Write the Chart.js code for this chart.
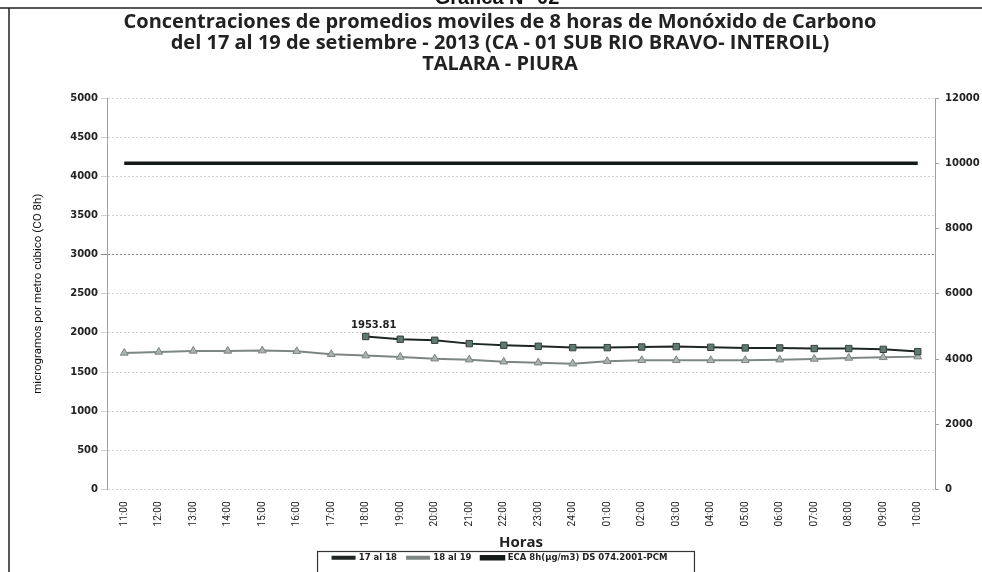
<!DOCTYPE html>
<html lang="es">
<head>
<meta charset="UTF-8">
<title>Gráfica N° 02 - Monóxido de Carbono</title>
<script src="https://cdn.jsdelivr.net/npm/chart.js"></script>
<style>
  body { margin: 0; background: #fff; }
  #wrap { position: relative; width: 982px; height: 572px; }
</style>
</head>
<body>
<div id="wrap"><canvas id="grafica" width="982" height="572"></canvas></div>
<script>
const horas = ['11:00', '12:00', '13:00', '14:00', '15:00', '16:00', '17:00', '18:00', '19:00', '20:00',
  '21:00', '22:00', '23:00', '24:00', '01:00', '02:00', '03:00', '04:00', '05:00', '06:00',
  '07:00', '08:00', '09:00', '10:00'];

const serie17al18 = [null, null, null, null, null, null, null, 1953.81, 1919, 1906,
  1863, 1842, 1829, 1812, 1812, 1820, 1825, 1816, 1808, 1808,
  1800, 1800, 1790, 1761];

const serie18al19 = [1744, 1757, 1770, 1770, 1774, 1765, 1727, 1710, 1693, 1671,
  1658, 1632, 1620, 1607, 1637, 1650, 1650, 1650, 1650, 1658,
  1667, 1680, 1688, 1697];

const eca = [10000, 10000, 10000, 10000, 10000, 10000, 10000, 10000, 10000, 10000,
  10000, 10000, 10000, 10000, 10000, 10000, 10000, 10000, 10000, 10000,
  10000, 10000, 10000, 10000];

const titulo = [
  'Concentraciones de promedios moviles de 8 horas de Monóxido de Carbono',
  'del 17 al 19 de setiembre - 2013 (CA - 01 SUB RIO BRAVO- INTEROIL)',
  'TALARA - PIURA'
];

const tickFont = { family: 'DejaVu Sans', size: 10, weight: 'bold' };

// marco del documento escaneado y titulo de la grafica cortado arriba
const marco = {
  id: 'marco',
  beforeDraw(chart) {
    const c = chart.ctx;
    c.save();
    c.fillStyle = '#fff';
    c.fillRect(0, 0, chart.width, chart.height);
    c.fillStyle = '#111';
    c.font = 'bold 20px "Liberation Sans", Arial';
    c.textAlign = 'center';
    c.textBaseline = 'alphabetic';
    c.fillText('Gráfica N° 02', 497, 4);
    c.strokeStyle = '#222';
    c.lineWidth = 1.5;
    c.beginPath();
    c.moveTo(0, 8); c.lineTo(chart.width, 8);
    c.moveTo(9, 8); c.lineTo(9, chart.height);
    c.stroke();
    c.restore();
  },
  afterDraw(chart) {
    const c = chart.ctx;
    // etiqueta del primer valor
    const p = chart.getDatasetMeta(0).data[7];
    c.save();
    c.fillStyle = '#222';
    c.font = 'bold 10px "DejaVu Sans"';
    c.textAlign = 'center';
    c.textBaseline = 'bottom';
    c.fillText(String(serie17al18[7]), p.x + 8, p.y - 6);
    // recuadro de la leyenda
    const hb = chart.legend.legendHitBoxes;
    if (hb && hb.length) {
      const l = Math.min(...hb.map(h => h.left)) - 15;
      const r = Math.max(...hb.map(h => h.left + h.width)) + 27;
      const t = hb[0].top - 2;
      c.strokeStyle = '#333';
      c.lineWidth = 1.2;
      c.strokeRect(l, t, r - l, chart.height - t + 5);
    }
    c.restore();
  }
};

new Chart(document.getElementById('grafica'), {
  type: 'line',
  data: {
    labels: horas,
    datasets: [
      {
        label: '17 al 18',
        data: serie17al18,
        yAxisID: 'y',
        borderColor: '#1e2622',
        backgroundColor: '#5f7a70',
        borderWidth: 2,
        pointStyle: 'rect',
        pointRadius: 4.5,
        pointBackgroundColor: '#5f7a70',
        pointBorderColor: '#34423c',
        pointBorderWidth: 1,
        tension: 0
      },
      {
        label: '18 al 19',
        data: serie18al19,
        yAxisID: 'y',
        borderColor: '#7e8682',
        backgroundColor: '#a9b3ad',
        borderWidth: 2,
        pointStyle: 'triangle',
        pointRadius: 4.5,
        pointBackgroundColor: '#a9b3ad',
        pointBorderColor: '#7e8682',
        pointBorderWidth: 1,
        tension: 0
      },
      {
        label: 'ECA 8h(µg/m3) DS 074.2001-PCM',
        data: eca,
        yAxisID: 'y2',
        borderColor: '#141a17',
        backgroundColor: '#141a17',
        borderWidth: 3.5,
        pointRadius: 0
      }
    ]
  },
  options: {
    responsive: false,
    animation: false,
    layout: { padding: { left: 18, right: 0, top: 0, bottom: 0 } },
    plugins: {
      title: {
        display: true,
        text: titulo,
        color: '#222',
        font: { family: 'Open Sans', size: 20, weight: 'bold', lineHeight: 1.05 },
        padding: { top: 12, bottom: 23 }
      },
      legend: {
        position: 'bottom',
        labels: {
          color: '#222',
          font: { family: 'DejaVu Sans', size: 8.5, weight: 'bold' },
          boxWidth: 22,
          boxHeight: 2,
          padding: 10
        }
      },
      tooltip: { enabled: false }
    },
    scales: {
      x: {
        offset: true,
        grid: { display: false },
        border: { display: false },
        ticks: {
          color: '#222',
          font: { family: 'Roboto', size: 10 },
          minRotation: 90,
          maxRotation: 90,
          padding: 4,
          autoSkip: false
        },
        title: {
          display: true,
          text: 'Horas',
          color: '#222',
          font: { family: 'Open Sans', size: 15, weight: 'bold' },
          padding: { top: 0, bottom: -8 }
        },
        afterFit(scale) { scale.height = 54; }
      },
      y: {
        position: 'left',
        min: 0,
        max: 5000,
        ticks: {
          stepSize: 500, color: '#222', font: tickFont, padding: 3,
          callback: v => String(v)
        },
        grid: {
          color: ctx => (ctx.tick && ctx.tick.value === 3000) ? '#8a8a8a' : '#d2d2d2',
          lineWidth: 1,
          tickLength: 6
        },
        border: { color: '#a0a0a0', dash: [2, 2] },
        title: {
          display: true,
          text: 'microgramos por metro cúbico (CO 8h)',
          color: '#111',
          font: { family: 'Roboto', size: 11.5 },
          padding: { top: 13, bottom: 0 }
        },
        afterFit(scale) { scale.width = 89; }
      },
      y2: {
        position: 'right',
        min: 0,
        max: 12000,
        ticks: {
          stepSize: 2000, color: '#222', font: tickFont, padding: 6,
          callback: v => String(v)
        },
        grid: { drawOnChartArea: false, tickLength: 4, color: '#a0a0a0' },
        border: { color: '#a0a0a0' },
        afterFit(scale) { scale.width = 47; }
      }
    }
  },
  plugins: [marco]
});
</script>
</body>
</html>
